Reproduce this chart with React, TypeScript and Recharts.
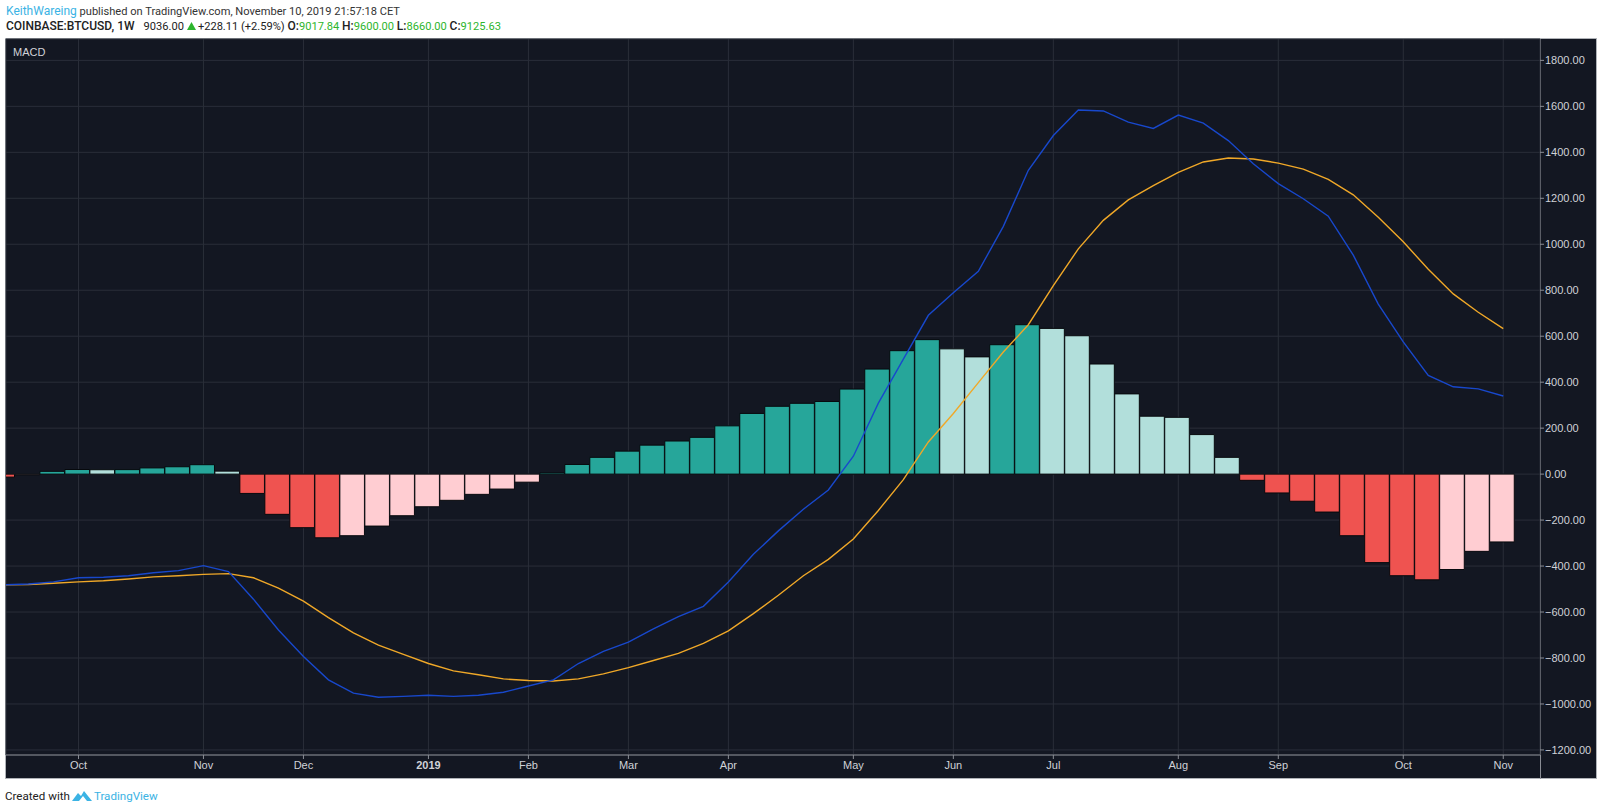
import React from 'react';
import { ComposedChart, Bar, Line, XAxis, YAxis, CartesianGrid, Rectangle } from 'recharts';

const histogram = [-13, -3, 12, 20, 19, 19.5, 27, 32, 41, 13, -84, -175, -233, -277, -268, -226, -181, -142, -114, -88, -65, -35, 5, 42, 73, 100, 126, 144, 160, 210, 264, 295, 308, 316, 370, 457, 537, 585, 545, 510, 563, 650, 634, 602, 479, 349, 252, 247, 172, 73, -27, -82, -118, -165, -268, -385, -442, -460, -415, -336, -295];
const macd = [-482, -478, -469, -451, -449, -442, -429, -420, -398, -424, -544, -678, -793, -895, -953, -971, -967, -962, -967, -962, -949, -922, -895, -824, -771, -731, -673, -620, -575, -469, -349, -247, -153, -69, 78, 309, 500, 691, 789, 882, 1078, 1322, 1473, 1584, 1580, 1531, 1504, 1562, 1527, 1451, 1350, 1264, 1198, 1122, 953, 740, 575, 429, 380, 371, 340];
const signal = [-482, -480, -475, -469, -464, -456, -447, -442, -436, -433, -451, -496, -553, -624, -691, -744, -784, -824, -856, -873, -891, -898, -900, -891, -869, -842, -811, -780, -736, -682, -607, -527, -442, -371, -282, -158, -24, 140, 264, 398, 531, 650, 820, 980, 1104, 1193, 1255, 1313, 1358, 1375, 1371, 1353, 1327, 1282, 1215, 1118, 1011, 891, 784, 704, 633];
const monthTicks = [3, 8, 12, 17, 21, 25, 29, 34, 38, 42, 47, 51, 56, 60];
const monthLabels = ['Oct', 'Nov', 'Dec', '2019', 'Feb', 'Mar', 'Apr', 'May', 'Jun', 'Jul', 'Aug', 'Sep', 'Oct', 'Nov'];
const priceTicks = [-1200, -1000, -800, -600, -400, -200, 0, 200, 400, 600, 800, 1000, 1200, 1400, 1600, 1800];

const rows = histogram.map((h, i) => ({ index: i, h, macd: macd[i], signal: signal[i] }));
const barColor = (i: number) => {
  const v = histogram[i];
  const rising = i > 0 && v > histogram[i - 1];
  if (v >= 0) return rising ? '#26a69a' : '#b2dfdb';
  return rising ? '#ffcdd2' : '#ef5350';
};

const uiFont = 'Roboto, sans-serif';
const axisFont = '"Liberation Sans", Arial, sans-serif';
const BAR_W = 24.6;

const WideBar = (p: any) => (
  <Rectangle {...p} x={p.x + p.width / 2 - BAR_W / 2 - 0.8} width={BAR_W} fill={barColor(p.payload.index)} stroke="#07090d" strokeWidth={1} />
);

const XTick = (p: any) => {
  const i = monthTicks.indexOf(p.payload.value);
  const label = monthLabels[i];
  return (
    <text x={p.x} y={p.y + 8} textAnchor="middle" fill="#d0d2d8" fontFamily={axisFont} fontSize={11} fontWeight={label === '2019' ? 700 : 400}>{label}</text>
  );
};
const YTick = (p: any) => {
  const v = p.payload.value as number;
  const s = (v < 0 ? '\u2212' : '') + Math.abs(v).toFixed(2);
  return (
    <text x={p.x - 1} y={p.y + 4} textAnchor="start" fill="#d0d2d8" fontFamily={axisFont} fontSize={11}>{s}</text>
  );
};

const green = '#2db52d';
const Lbl = ({ t }: { t: string }) => <b style={{ fontWeight: 500, fontSize: 12 }}>{t}</b>;
const Val = ({ t }: { t: string }) => <span style={{ color: green }}>{t}</span>;
export default function App() {
  return (
    <div style={{ position: 'absolute', left: 0, top: 0, width: 1600, height: 811, background: '#fff', overflow: 'hidden' }}>
      <div style={{ position: 'absolute', left: 6, top: 4, fontFamily: uiFont, fontSize: 11.1, color: '#333', whiteSpace: 'nowrap' }}>
        <span style={{ color: '#3bb3e4', fontSize: 12 }}>KeithWareing</span> published on TradingView.com, November 10, 2019 21:57:18 CET
      </div>
      <div style={{ position: 'absolute', left: 6, top: 19, fontFamily: uiFont, fontSize: 11.1, color: '#222', whiteSpace: 'nowrap' }}>
        <Lbl t="COINBASE:BTCUSD, 1W" /><span style={{ marginLeft: 9 }}>9036.00</span>
        <svg width="9" height="8" viewBox="0 0 9 8" style={{ margin: '0 2px 0 3px' }}><path d="M4.5 0 L9 8 L0 8 Z" fill={green} /></svg>
        +228.11 (+2.59%) <Lbl t="O:" /><Val t="9017.84" /> <Lbl t="H:" /><Val t="9600.00" /> <Lbl t="L:" /><Val t="8660.00" /> <Lbl t="C:" /><Val t="9125.63" />
      </div>
      <div style={{ position: 'absolute', left: 5, top: 38, width: 1590, height: 739, background: '#131722', border: '1px solid #b0b3b8' }} />
      <div style={{ position: 'absolute', left: 1540, top: 39, width: 1, height: 740, background: '#8a8d95' }} />
      <div style={{ position: 'absolute', left: 0, top: 0 }}>
        <ComposedChart width={1600} height={811} data={rows} margin={{ top: 39, right: 0, bottom: 31, left: 6 }} barGap={0} barCategoryGap={0}>
          <CartesianGrid stroke="#2a2e39" strokeWidth={1} />
          <XAxis
            type="number"
            dataKey="index"
            domain={[0.1, 61.47]}
            allowDataOverflow
            ticks={monthTicks}
            interval={0}
            height={25}
            tick={<XTick />}
            stroke="#8a8d95"
            tickLine={{ stroke: '#8a8d95' }}
            tickSize={4}
          />
          <YAxis
            orientation="right"
            domain={[-1222, 1893]}
            allowDataOverflow
            ticks={priceTicks}
            interval={0}
            width={60}
            tick={<YTick />}
            axisLine={false}
            tickLine={{ stroke: '#8a8d95' }}
            tickSize={4}
          />
          <Bar dataKey="h" barSize={20} shape={<WideBar />} isAnimationActive={false} />
          <Line dataKey="signal" type="linear" stroke="#f0a828" strokeWidth={1.4} dot={false} isAnimationActive={false} />
          <Line dataKey="macd" type="linear" stroke="#1848cc" strokeWidth={1.4} dot={false} isAnimationActive={false} />
        </ComposedChart>
      </div>
      <div style={{ position: 'absolute', left: 13, top: 46, fontFamily: axisFont, fontSize: 11, color: '#d0d2d8' }}>MACD</div>
      <div style={{ position: 'absolute', left: 5, top: 789, fontFamily: uiFont, fontSize: 11.6, color: '#222', whiteSpace: 'nowrap', display: 'flex', alignItems: 'center', gap: 2 }}>
        <span>Created with</span>
        <svg width="20" height="13" viewBox="0 0 20 13"><path d="M0 11 L6 3 L9 6 L12 1 L20 11 L15 11 L11 6 L7 11 Z" fill="#3bb3e4" /></svg>
        <span style={{ color: '#3bb3e4' }}>TradingView</span>
      </div>
    </div>
  );
}
